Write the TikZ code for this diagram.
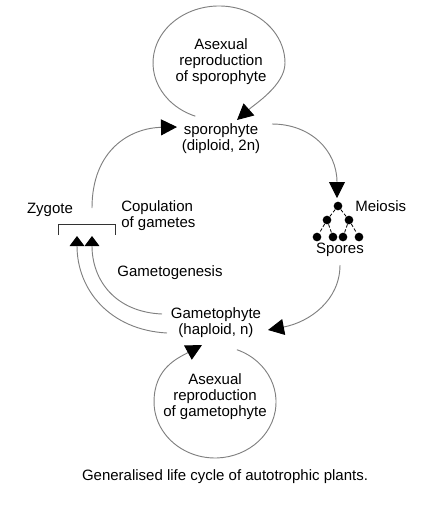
\documentclass[tikz,border=0pt]{standalone}
\usepackage{fontspec}
\setmainfont{Liberation Sans}
\usetikzlibrary{arrows.meta}
\begin{document}
\begin{tikzpicture}[x=0.75pt,y=-0.75pt,
  lbl/.style={font=\fontsize{11.25}{12}\selectfont, align=center, inner sep=0pt, text=black},
  conn/.style={draw=black!50, line width=0.7pt},
  tip/.style={-{Triangle[length=12pt,width=12pt,color=black,fill=black]}},
  smalltip/.style={-{Triangle[length=7.5pt,width=11pt,color=black,fill=black]}},
  dot/.style={circle, fill=black, inner sep=0pt, minimum size=6.5pt},
  dashlink/.style={draw=black, line width=0.6pt, dash pattern=on 2.5pt off 1.5pt}
]
\useasboundingbox (0,0) rectangle (432,512);

% text nodes
\node[lbl] (topText) at (221,62) {Asexual\\reproduction\\of sporophyte};
\node[lbl] (sporo) at (221,138.5) {sporophyte\\(diploid, 2n)};
\node[lbl] (gameto) at (216,322.5) {Gametophyte\\(haploid, n)};
\node[lbl] (botText) at (215,397) {Asexual\\reproduction\\of gametophyte};
\node[lbl] (zygote) at (50,210) {Zygote};
\node[lbl, align=left, anchor=west] (copul) at (121,215.5) {Copulation\\of gametes};
\node[lbl] (gamgen) at (170,273) {Gametogenesis};
\node[lbl, anchor=west] (meiosis) at (355,206) {Meiosis};
\node[lbl] (spores) at (340,250) {Spores};
\node[lbl] (caption) at (225,477) {Generalised life cycle of autotrophic plants.};

% meiosis tree
\node[dot] (d1) at (338,206) {};
\node[dot] (d2) at (327,220) {};
\node[dot] (d3) at (349,220) {};
\node[dot] (d4) at (317,237) {};
\node[dot] (d5) at (333,237) {};
\node[dot] (d6) at (343,237) {};
\node[dot] (d7) at (359,237) {};
\draw[dashlink] (d1) -- (d2);
\draw[dashlink] (d1) -- (d3);
\draw[dashlink] (d2) -- (d4);
\draw[dashlink] (d2) -- (d5);
\draw[dashlink] (d3) -- (d6);
\draw[dashlink] (d3) -- (d7);

% endpoints
\coordinate (topS) at (195.35,116.2);
\coordinate (topE) at (237,120);
\coordinate (botS) at (236.9,349.7);
\coordinate (botE) at (202,345);
\coordinate (zygOut) at (92,208);
\coordinate (sporoIn) at (177,127);
\coordinate (sporoOut) at (272,124);
\coordinate (meioIn) at (337,198);
\coordinate (sporesOut) at (340,265);
\coordinate (gametoIn) at (268,330);
\coordinate (gamOutA) at (167,333);
\coordinate (gamOutB) at (162,314);
\coordinate (zygInA) at (77,236);
\coordinate (zygInB) at (92,236);
\coordinate (brL) at (58,235);
\coordinate (brR) at (115,235);

% asexual loops
\draw[conn, tip] (topS) arc[start angle=111, end angle=360, x radius=66, y radius=57]
  .. controls (285,85) and (255,104) .. (topE);
\draw[conn, tip] (botS) arc[start angle=-69, end angle=180, x radius=61, y radius=56]
  .. controls (154,368) and (178,358) .. (botE);

% main cycle
\draw[conn, tip] (zygOut) .. controls (92,150) and (130,128) .. (sporoIn);
\draw[conn, tip] (sporoOut) .. controls (310,124) and (337,150) .. (meioIn);
\draw[conn, tip] (sporesOut) .. controls (340,300) and (310,322) .. (gametoIn);
\draw[conn, smalltip] (gamOutA) .. controls (110,330) and (77,290) .. (zygInA);
\draw[conn, smalltip] (gamOutB) .. controls (115,312) and (92,280) .. (zygInB);

% bracket
\draw[draw=black!80, line width=0.7pt] (brL) |- (115,224) -- (brR);
\end{tikzpicture}
\end{document}
